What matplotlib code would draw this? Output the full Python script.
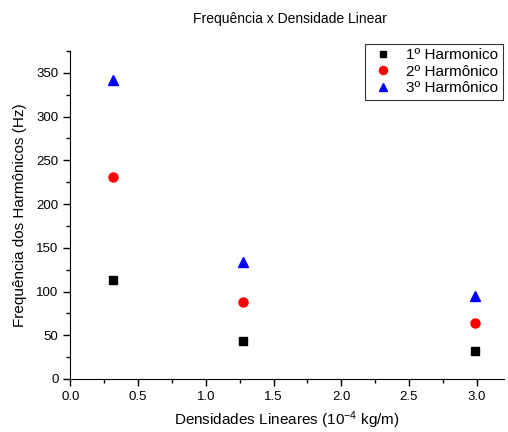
import numpy as np
import matplotlib.pyplot as plt
from matplotlib.ticker import MultipleLocator

plt.rcParams['font.family'] = ['Liberation Sans', 'DejaVu Sans']
plt.rcParams['mathtext.fontset'] = 'custom'
plt.rcParams['mathtext.rm'] = 'Liberation Sans'
plt.rcParams['mathtext.it'] = 'Liberation Sans:italic'

# Densidades lineares (10^-4 kg/m)
densidades = [0.315, 1.276, 2.985]
# Frequencias (Hz)
harm1 = [113, 44, 32]
harm2 = [231, 88, 64]
harm3 = [342, 134, 95]
labels = ['1º Harmonico', '2º Harmônico', '3º Harmônico']


def main():
    fig = plt.figure(figsize=(5.08, 4.32), dpi=100)
    ax = fig.add_axes([0.1386, 0.1227, 0.853, 0.7593])

    ax.plot(densidades, harm1, 's', color='black', ms=5.5, ls='none', label=labels[0])
    ax.plot(densidades, harm2, 'o', color='red', ms=6.5, ls='none', label=labels[1])
    ax.plot(densidades, harm3, '^', color='blue', ms=7, ls='none', label=labels[2])

    ax.set_xlim(0, 3.2)
    ax.set_ylim(0, 375)
    ax.xaxis.set_major_locator(MultipleLocator(0.5))
    ax.xaxis.set_minor_locator(MultipleLocator(0.25))
    ax.yaxis.set_major_locator(MultipleLocator(50))
    ax.yaxis.set_minor_locator(MultipleLocator(25))
    ax.xaxis.set_major_formatter(plt.FormatStrFormatter('%.1f'))

    ax.spines['top'].set_visible(False)
    ax.spines['right'].set_visible(False)
    ax.tick_params(which='major', direction='out', length=5, width=1, labelsize=9.5)
    ax.tick_params(which='minor', direction='out', length=3, width=1)

    ax.set_xlabel(r'Densidades Lineares (10$^{\mathrm{-4}}$ kg/m)', fontsize=11, labelpad=5)
    ax.set_ylabel('Frequência dos Harmônicos (Hz)', fontsize=11, labelpad=7)
    fig.text(0.57, 0.955, 'Frequência x Densidade Linear', ha='center', va='center', fontsize=10)

    leg = ax.legend(loc='upper right', bbox_to_anchor=(1.015, 1.045), fontsize=11,
                    frameon=True, fancybox=False, edgecolor='black', handletextpad=0.6,
                    borderpad=0.3, labelspacing=0.15, handlelength=1.8, markerscale=0.9)
    leg.get_frame().set_linewidth(0.8)

    plt.savefig('out.png', dpi=100)


if __name__ == '__main__':
    main()
